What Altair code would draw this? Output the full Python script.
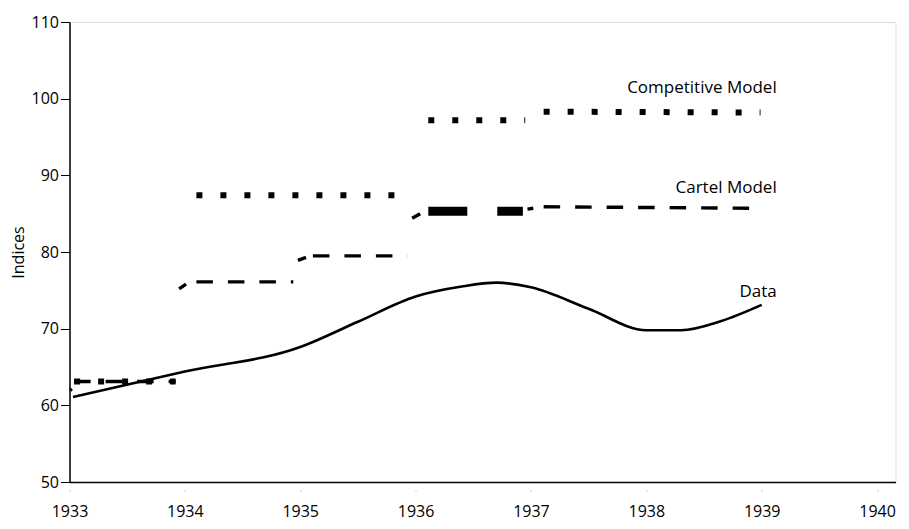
import altair as alt
import pandas as pd

# ---- values ----
data_years = [1933.03, 1934.0, 1935.0, 1935.5, 1936.0, 1936.4, 1936.7, 1937.0, 1937.5, 1938.0, 1938.3, 1938.65, 1939.0]
data_values = [61.1, 64.4, 67.6, 70.9, 74.2, 75.5, 76.0, 75.4, 72.6, 69.8, 69.8, 71.0, 73.1]

comp_x0 = [1933.04, 1934.10, 1936.11, 1937.11]
comp_x1 = [1933.92, 1935.95, 1936.95, 1938.99]
comp_y0 = [63.1, 87.4, 97.2, 98.3]
comp_y1 = [63.1, 87.4, 97.2, 98.2]

cartel_x0 = [1933.04, 1934.10, 1935.11, 1937.11]
cartel_x1 = [1933.92, 1934.94, 1935.93, 1939.01]
cartel_y0 = [63.1, 76.1, 79.5, 85.9]
cartel_y1 = [63.1, 76.1, 79.5, 85.7]

block_x0 = [1936.11]
block_x1 = [1936.93]
block_y = [85.3]

curl_x0 = [1933.005, 1933.95, 1934.98, 1935.97, 1936.97]
curl_x1 = [1933.02, 1934.01, 1935.05, 1936.04, 1937.02]
curl_y0 = [61.95, 75.2, 78.9, 84.4, 85.6]
curl_y1 = [62.15, 75.8, 79.3, 85.0, 85.7]

label_text = ["Competitive Model", "Cartel Model", "Data"]
label_x = [1939.13, 1939.13, 1939.13]
label_y = [101.4, 88.3, 74.8]

year_ticks = [1933, 1934, 1935, 1936, 1937, 1938, 1939, 1940]
y_ticks = [50, 60, 70, 80, 90, 100, 110]

FONT = "Open Sans"


def segs(x0, x1, y0, y1, name):
    rows = []
    for i in range(len(x0)):
        rows.append({"x": x0[i], "y": y0[i], "seg": f"{name}{i}"})
        rows.append({"x": x1[i], "y": y1[i], "seg": f"{name}{i}"})
    return pd.DataFrame(rows)


data_df = pd.DataFrame({"x": data_years, "y": data_values})
comp_df = segs(comp_x0, comp_x1, comp_y0, comp_y1, "c")
cartel_df = segs(cartel_x0, cartel_x1, cartel_y0, cartel_y1, "k")
block_df = segs(block_x0, block_x1, block_y, block_y, "b")
curl_df = segs(curl_x0, curl_x1, curl_y0, curl_y1, "u")
label_df = pd.DataFrame({"x": label_x, "y": label_y, "t": label_text})

xs = alt.Scale(domain=[1933, 1940.16], nice=False, zero=False)
ys = alt.Scale(domain=[50, 110], nice=False, zero=False)

x_axis = alt.Axis(values=year_ticks, format="d", title=None, grid=False, labelFlush=False,
                  domainColor="black", domainWidth=1.5,
                  tickColor="#9a9a9a", tickSize=9, tickWidth=1, tickDash=[0, 8, 1, 20],
                  labelPadding=12, labelFont=FONT, labelFontSize=16, labelColor="black")
y_axis = alt.Axis(values=y_ticks, title="Indices", grid=False, labelFlush=False,
                  domainColor="black", domainWidth=1.5,
                  tickColor="black", tickSize=9, tickWidth=1,
                  labelPadding=2, labelFont=FONT, labelFontSize=16, labelColor="black",
                  titleFont=FONT, titleFontSize=16, titleFontWeight="normal", titleColor="black",
                  titleX=-51, titleY=230, titleAngle=270, titleBaseline="middle", titleAlign="center")

X = alt.X("x:Q", scale=xs, axis=x_axis)
Y = alt.Y("y:Q", scale=ys, axis=y_axis)
Xn = alt.X("x:Q", scale=xs)
Yn = alt.Y("y:Q", scale=ys)

data_line = alt.Chart(data_df).mark_line(color="black", strokeWidth=2.6, interpolate="monotone").encode(x=X, y=Y)
comp_line = alt.Chart(comp_df).mark_line(color="black", strokeWidth=6, strokeDash=[6, 18]).encode(x=Xn, y=Yn, detail="seg:N")
cartel_line = alt.Chart(cartel_df).mark_line(color="black", strokeWidth=3.4, strokeDash=[16.5, 15]).encode(x=Xn, y=Yn, detail="seg:N")
block_line = alt.Chart(block_df).mark_line(color="black", strokeWidth=9, strokeDash=[39, 30]).encode(x=Xn, y=Yn, detail="seg:N")
curl_line = alt.Chart(curl_df).mark_line(color="black", strokeWidth=3.4).encode(x=Xn, y=Yn, detail="seg:N")
labels = alt.Chart(label_df).mark_text(align="right", baseline="middle", font=FONT, fontSize=17, color="black").encode(x=Xn, y=Yn, text="t:N")

chart = alt.layer(data_line, comp_line, cartel_line, block_line, curl_line, labels).properties(
    width=826, height=460,
    autosize=alt.AutoSizeParams(type="none"),
    padding={"left": 61.5, "top": 14, "right": 5, "bottom": 38},
).configure_view(stroke=None).configure(background="white")

chart.save("out.html", embed_options={"renderer": "svg", "actions": False})
